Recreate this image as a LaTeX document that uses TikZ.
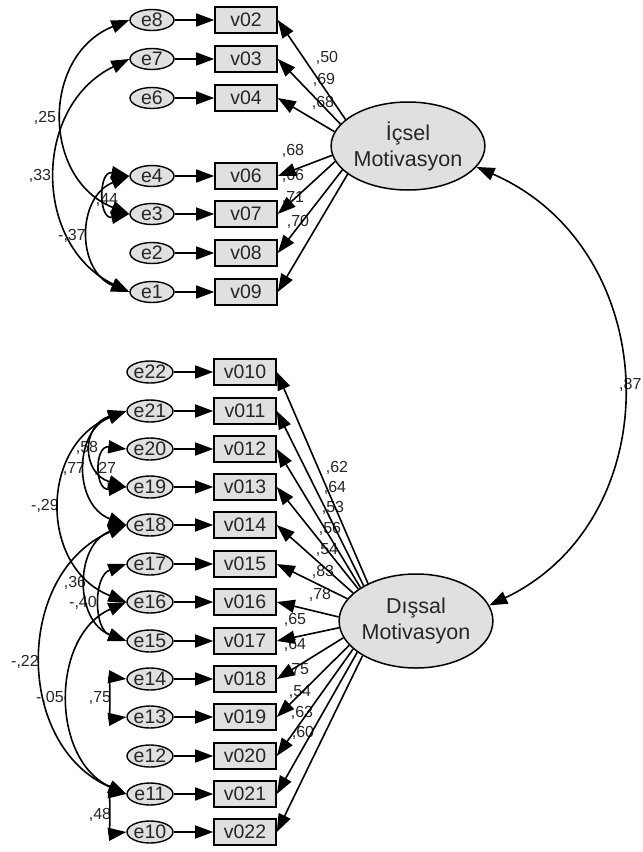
\documentclass[tikz,border=0pt]{standalone}
\usepackage{fontspec}
\setmainfont{Liberation Sans}
\usetikzlibrary{arrows.meta,shapes.geometric}
\begin{document}
\begin{tikzpicture}[x=1pt,y=-1pt,
  every node/.style={text=black!85},
  enode/.style={ellipse,draw,line width=1.4pt,fill=black!12,minimum width=44pt,minimum height=21pt,inner sep=0pt,font=\fontsize{19.5}{19.5}\selectfont},
  vnode/.style={rectangle,draw,line width=1.6pt,fill=black!12,minimum width=62pt,minimum height=26pt,inner sep=0pt,font=\fontsize{19.5}{19.5}\selectfont},
  lat/.style={ellipse,draw,line width=1.5pt,fill=black!12,inner sep=0pt,align=center,font=\fontsize{21.5}{26}\selectfont},
  lab/.style={font=\fontsize{16}{16}\selectfont,inner sep=0pt},
  arr/.style={-{Triangle[length=18pt,width=13pt]},line width=1.6pt},
  cov/.style={{Triangle[length=18pt,width=13pt]}-{Triangle[length=18pt,width=13pt]},line width=1.6pt},
]
\useasboundingbox (0,0) rectangle (643,852);

% labels (drawn first, lines go over them)
\node[lab] (l1) at (327,58) {,50};
\node[lab] (l2) at (324,80) {,69};
\node[lab] (l3) at (323,103) {,68};
\node[lab] (l4) at (293,151) {,68};
\node[lab] (l5) at (293,176) {,66};
\node[lab] (l6) at (293,198) {,71};
\node[lab] (l7) at (298,222) {,70};
\node[lab] (c1) at (45,118) {,25};
\node[lab] (c2) at (40,176) {,33};
\node[lab] (c3) at (72,236) {-,37};
\node[lab] (c4) at (107,200) {,44};

\node[lab] (m1) at (337,468) {,62};
\node[lab] (m2) at (335,488) {,64};
\node[lab] (m3) at (333,508) {,53};
\node[lab] (m4) at (330,529) {,56};
\node[lab] (m5) at (327,550) {,54};
\node[lab] (m6) at (323,572) {,83};
\node[lab] (m7) at (320,595) {,78};
\node[lab] (m8) at (295,620) {,65};
\node[lab] (m9) at (295,645) {,64};
\node[lab] (m10) at (298,670) {,75};
\node[lab] (m11) at (300,692) {,54};
\node[lab] (m12) at (302,713) {,63};
\node[lab] (m13) at (303,733) {,60};
\node[lab] (d1) at (87,448) {,58};
\node[lab] (d2) at (74,469) {,77};
\node[lab] (d3) at (105,469) {,27};
\node[lab] (d4) at (45,506) {-,29};
\node[lab] (d5) at (75,583) {,36};
\node[lab] (d6) at (83,603) {-,40};
\node[lab] (d7) at (25,662) {-,22};
\node[lab] (d8) at (50,698) {-,05};
\node[lab] (d9) at (100,698) {,75};
\node[lab] (d10) at (100,815) {,48};
\node[lab,anchor=west] (r87) at (619,385) {,87};

% latent variables
\node[lat,minimum width=150pt,minimum height=88pt] (icsel) at (408,146) {İçsel\\Motivasyon};
\node[lat,minimum width=152pt,minimum height=94pt] (dissal) at (416,621) {Dışsal\\Motivasyon};

% top group
\foreach \e/\v/\y in {e8/v02/20,e7/v03/59,e6/v04/98,e4/v06/176,e3/v07/214,e2/v08/253,e1/v09/292}{
  \node[enode] (\e) at (152,\y) {\e};
  \node[vnode] (\v) at (246,\y) {\v};
  \draw[arr] (\e) -- (\v);
}
% bottom group
\foreach \e/\v/\y in {e22/v010/372,e21/v011/411,e20/v012/449,e19/v013/487,e18/v014/525,e17/v015/564,e16/v016/602,e15/v017/641,e14/v018/679,e13/v019/717,e12/v020/756,e11/v021/794,e10/v022/832}{
  \node[enode,minimum width=46pt,minimum height=22pt] (\e) at (150,\y) {\e};
  \node[vnode] (\v) at (245,\y) {\v};
  \draw[arr] (\e) -- (\v);
}

% loadings
\foreach \v/\a in {v02/157.7,v03/162.4,v04/169.8,v06/187,v07/192.9,v08/200,v09/205.8}{
  \draw[arr] (icsel.\a) -- (\v.east);
}
\foreach \v/\a in {v010/142,v011/146,v012/149,v013/151,v014/156,v015/162,v016/177,v017/185,v018/193,v019/200,v020/204,v021/208,v022/213}{
  \draw[arr] (dissal.\a) -- (\v.east);
}

% latent covariance
\draw[cov] (icsel.-17) .. controls (665,249) and (672,518) .. (dissal.12);

% top covariances
\draw[cov] (e8.west) .. controls +(-88,35) and +(-88,-35) .. (e3.west);
\draw[cov] (e7.west) .. controls +(-97,47) and +(-97,-47) .. (e1.west);
\draw[cov] (e4.west) .. controls +(-53,21) and +(-53,-21) .. (e1.west);
\draw[cov] (e4.west) .. controls +(-31,-6) and +(-31,6) .. (e3.west);

% bottom covariances
\draw[cov] (e21.west) .. controls +(-45,14) and +(-45,-14) .. (e19.west);
\draw[cov] (e21.west) .. controls +(-53,20) and +(-53,-20) .. (e18.west);
\draw[cov] (e20.west) .. controls +(-32,-4) and +(-32,4) .. (e19.west);
\draw[cov] (e21.west) .. controls +(-87,34) and +(-87,-34) .. (e16.west);
\draw[cov] (e18.west) .. controls +(-52,20) and +(-52,-20) .. (e15.west);
\draw[cov] (e17.west) .. controls +(-33,12) and +(-33,-12) .. (e15.west);
\draw[cov] (e18.west) .. controls +(-112,48) and +(-112,-48) .. (e11.west);
\draw[cov] (e16.west) .. controls +(-76,34) and +(-76,-34) .. (e11.west);
\draw[cov] (e14.west) .. controls +(-16,-2) and +(-16,2) .. (e13.west);
\draw[cov] (e11.west) .. controls +(-16,-2) and +(-16,2) .. (e10.west);
\end{tikzpicture}
\end{document}
